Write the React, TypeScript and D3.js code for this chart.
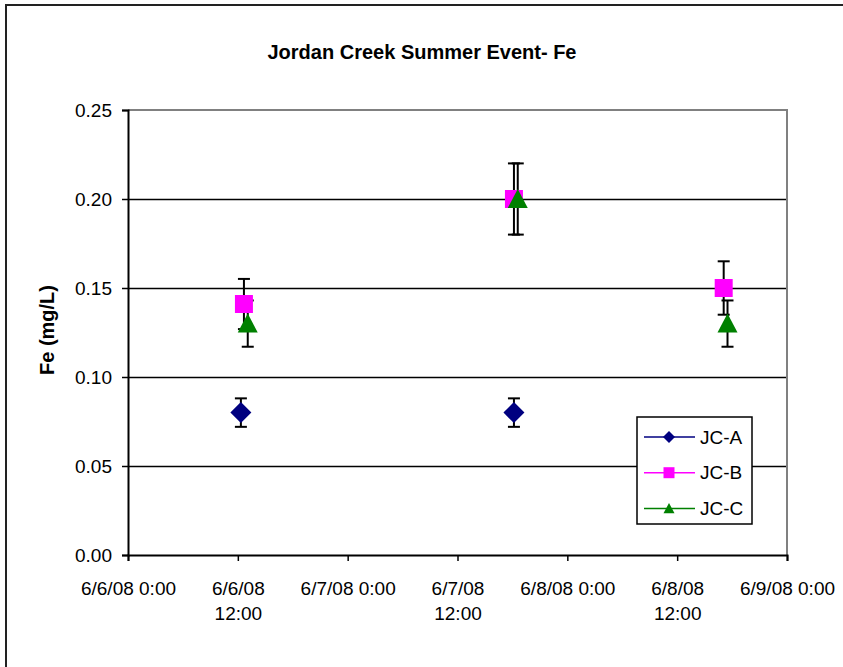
// @ts-nocheck
import React, { useEffect, useRef } from "react";
import * as d3 from "d3";

// sample times and Fe values per site
const timesA = ["2008-06-06T12:20", "2008-06-07T18:10"];
const valuesA = [0.08, 0.08];
const timesB = ["2008-06-06T12:40", "2008-06-07T18:10", "2008-06-08T17:05"];
const valuesB = [0.141, 0.2, 0.15];
const timesC = ["2008-06-06T13:05", "2008-06-07T18:35", "2008-06-08T17:30"];
const valuesC = [0.13, 0.2, 0.13];
const errorPct = 0.1; // percentage error bars

const yTicks = [0, 0.05, 0.1, 0.15, 0.2, 0.25];
const xTickLabels = [
  ["6/6/08 0:00"],
  ["6/6/08", "12:00"],
  ["6/7/08 0:00"],
  ["6/7/08", "12:00"],
  ["6/8/08 0:00"],
  ["6/8/08", "12:00"],
  ["6/9/08 0:00"],
];
const xStart = "2008-06-06T00:00";
const xEnd = "2008-06-09T00:00";

const App = () => {
  const svgRef = useRef();

  useEffect(() => {
    const width = 843;
    const height = 667;
    const font = "Liberation Sans, Arial, sans-serif";
    const parse = d3.timeParse("%Y-%m-%dT%H:%M");

    const svg = d3.select(svgRef.current);
    svg.selectAll("*").remove();
    svg.attr("width", width).attr("height", height);

    const left = 128,
      right = 787,
      top = 110,
      bottom = 555;

    const x = d3
      .scaleTime()
      .domain([parse(xStart), parse(xEnd)])
      .range([left, right]);
    const y = d3.scaleLinear().domain([0, 0.25]).range([bottom, top]);

    // chart area border (runs off the page on right/bottom)
    svg
      .append("rect")
      .attr("x", 6)
      .attr("y", 5)
      .attr("width", 900)
      .attr("height", 800)
      .attr("fill", "white")
      .attr("stroke", "#222")
      .attr("stroke-width", 2);

    // title
    svg
      .append("text")
      .attr("x", 422)
      .attr("y", 59)
      .attr("text-anchor", "middle")
      .style("font-family", font)
      .style("font-weight", "bold")
      .style("font-size", "20px")
      .text("Jordan Creek Summer Event- Fe");

    // gridlines
    svg
      .selectAll(".grid")
      .data(yTicks.filter((d) => d > 0 && d < 0.25))
      .enter()
      .append("line")
      .attr("x1", left)
      .attr("x2", right)
      .attr("y1", (d) => y(d) + 0.5)
      .attr("y2", (d) => y(d) + 0.5)
      .attr("stroke", "black")
      .attr("stroke-width", 1.4);

    // plot border top / right
    svg
      .append("path")
      .attr("d", `M${left},${top}H${right}V${bottom}`)
      .attr("fill", "none")
      .attr("stroke", "#808080")
      .attr("stroke-width", 2);

    // y axis
    const yAxis = svg
      .append("g")
      .attr("transform", `translate(${left},0)`)
      .call(
        d3
          .axisLeft(y)
          .tickValues(yTicks)
          .tickSize(6)
          .tickPadding(10)
          .tickFormat(d3.format(".2f")),
      );
    yAxis.select(".domain").attr("stroke", "black").attr("stroke-width", 2);
    yAxis.selectAll("line").attr("stroke", "black").attr("stroke-width", 1.5);
    yAxis
      .selectAll("text")
      .style("font-family", font)
      .style("font-size", "19px")
      .attr("fill", "black");

    // x axis
    const xTicks = d3.range(xTickLabels.length).map((i) =>
      d3.timeHour.offset(parse(xStart), i * 12),
    );
    const xAxis = svg
      .append("g")
      .attr("transform", `translate(0,${bottom})`)
      .call(
        d3
          .axisBottom(x)
          .tickValues(xTicks)
          .tickSize(6)
          .tickFormat(() => ""),
      );
    xAxis.select(".domain").attr("stroke", "black").attr("stroke-width", 2);
    xAxis.selectAll("line").attr("stroke", "black").attr("stroke-width", 1.5);
    xAxis
      .selectAll(".tick text")
      .data(xTickLabels)
      .style("font-family", font)
      .style("font-size", "19px")
      .attr("fill", "black")
      .attr("y", 0)
      .attr("dy", null)
      .each(function (lines) {
        const t = d3.select(this);
        lines.forEach((l, i) => {
          t.append("tspan")
            .attr("x", 0)
            .attr("y", 40 + i * 25)
            .text(l);
        });
      });

    // y axis title
    svg
      .append("text")
      .attr("transform", `translate(54,330) rotate(-90)`)
      .attr("text-anchor", "middle")
      .style("font-family", font)
      .style("font-weight", "bold")
      .style("font-size", "20px")
      .text("Fe (mg/L)");

    const series = [
      { name: "JC-A", times: timesA, values: valuesA, color: "#000080", shape: "diamond" },
      { name: "JC-B", times: timesB, values: valuesB, color: "#FF00FF", shape: "square" },
      { name: "JC-C", times: timesC, values: valuesC, color: "#008000", shape: "triangle" },
    ];

    const markerPath = (shape, s) => {
      if (shape === "diamond") return `M0,${-s}L${s},0L0,${s}L${-s},0Z`;
      if (shape === "square") return `M${-s},${-s}H${s}V${s}H${-s}Z`;
      return `M0,${-s}L${s},${s * 0.9}L${-s},${s * 0.9}Z`;
    };
    const markerSize = { diamond: 10.5, square: 9, triangle: 10 };

    // error bars first, markers on top
    series.forEach((s) => {
      const pts = s.times.map((t, i) => ({ t: parse(t), v: s.values[i] }));
      const g = svg.append("g");
      pts.forEach((p) => {
        const cx = x(p.t);
        const hi = y(p.v * (1 + errorPct));
        const lo = y(p.v * (1 - errorPct));
        g.append("line")
          .attr("x1", cx).attr("x2", cx).attr("y1", hi).attr("y2", lo)
          .attr("stroke", "black").attr("stroke-width", 2);
        [hi, lo].forEach((yy) =>
          g.append("line")
            .attr("x1", cx - 6).attr("x2", cx + 6).attr("y1", yy).attr("y2", yy)
            .attr("stroke", "black").attr("stroke-width", 2),
        );
      });
    });

    series.forEach((s) => {
      const pts = s.times.map((t, i) => ({ t: parse(t), v: s.values[i] }));
      svg
        .append("g")
        .selectAll("path")
        .data(pts)
        .enter()
        .append("path")
        .attr("transform", (d) => `translate(${x(d.t)},${y(d.v)})`)
        .attr("d", markerPath(s.shape, markerSize[s.shape]))
        .attr("fill", s.color);
    });

    // legend
    const lg = svg.append("g").attr("transform", "translate(637,417)");
    lg.append("rect")
      .attr("width", 115)
      .attr("height", 107)
      .attr("fill", "white")
      .attr("stroke", "black")
      .attr("stroke-width", 1.5);
    series.forEach((s, i) => {
      const ry = 20 + i * 35.7;
      lg.append("line")
        .attr("x1", 7).attr("x2", 58).attr("y1", ry).attr("y2", ry)
        .attr("stroke", s.color).attr("stroke-width", 1.5);
      lg.append("path")
        .attr("transform", `translate(32,${ry})`)
        .attr("d", markerPath(s.shape, s.shape === "diamond" ? 6 : 5.5))
        .attr("fill", s.color);
      lg.append("text")
        .attr("x", 63)
        .attr("y", ry)
        .attr("dy", "0.35em")
        .style("font-family", font)
        .style("font-size", "19px")
        .text(s.name);
    });
  }, []);

  return (
    <svg
      ref={svgRef}
      style={{ position: "absolute", left: 0, top: 0, display: "block" }}
    ></svg>
  );
};

export default App;
